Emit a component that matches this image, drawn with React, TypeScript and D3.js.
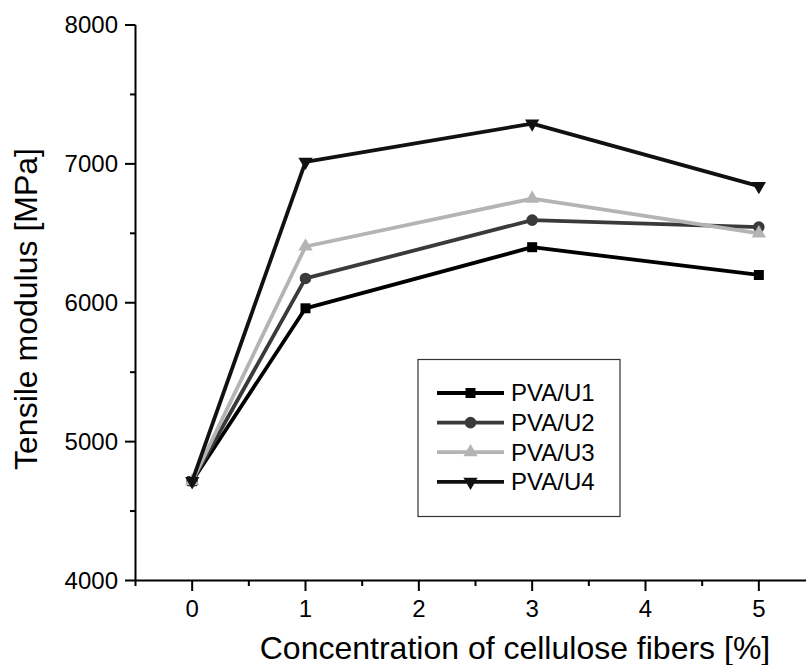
import React from "react";
import * as d3 from "d3";

const concentrations = [0, 1, 3, 5];
const seriesNames = ["PVA/U1", "PVA/U2", "PVA/U3", "PVA/U4"];
const u1 = [4715, 5960, 6400, 6200];
const u2 = [4715, 6175, 6595, 6545];
const u3 = [4715, 6405, 6750, 6500];
const u4 = [4715, 7015, 7290, 6840];
const xTicks = [0, 1, 2, 3, 4, 5];
const xMinor = [-0.5, 0.5, 1.5, 2.5, 3.5, 4.5, 5.5];
const yTicks = [4000, 5000, 6000, 7000, 8000];
const yMinor = [4500, 5500, 6500, 7500];

const W = 806;
const H = 665;
const FONT = "'Liberation Sans', Arial, sans-serif";

const styles = [
  { color: "#000000", symbol: d3.symbolSquare, size: 100, rotate: 0 },
  { color: "#3a3a3a", symbol: d3.symbolCircle, size: 105, rotate: 0 },
  { color: "#b4b4b4", symbol: d3.symbolTriangle, size: 88, rotate: 0 },
  { color: "#111111", symbol: d3.symbolTriangle, size: 88, rotate: 180 },
];

export default function App() {
  const x = d3.scaleLinear().domain([-0.5, 5.5]).range([135.5, 815.5]);
  const y = d3.scaleLinear().domain([4000, 8000]).range([580.5, 25]);
  const all = [u1, u2, u3, u4];
  const line = d3
    .line<number>()
    .x((_, i) => x(concentrations[i]))
    .y((d) => y(d));

  const legendX0 = 437;
  const legendX1 = 504;
  const legendY0 = 393;
  const legendStep = 29.6;

  return (
    <svg
      width={W}
      height={H}
      style={{ position: "absolute", left: 0, top: 0, background: "#fff" }}
      fontFamily={FONT}
    >
      <rect x={0} y={0} width={W} height={H} fill="#fff" />
      {/* axes */}
      <line x1={135.5} x2={W} y1={580.5} y2={580.5} stroke="#000" strokeWidth={2} />
      <line x1={135.5} x2={135.5} y1={y(8000)} y2={580.5} stroke="#000" strokeWidth={2} />
      {xTicks.map((t) => (
        <g key={"xt" + t}>
          <line x1={x(t)} x2={x(t)} y1={580.5} y2={591} stroke="#000" strokeWidth={2} />
          <text x={x(t)} y={617} textAnchor="middle" fontSize={24} fill="#000">
            {t}
          </text>
        </g>
      ))}
      {xMinor.map((t) => (
        <line key={"xm" + t} x1={x(t)} x2={x(t)} y1={580.5} y2={586} stroke="#000" strokeWidth={2} />
      ))}
      {yTicks.map((t) => (
        <g key={"yt" + t}>
          <line x1={125} x2={135.5} y1={y(t)} y2={y(t)} stroke="#000" strokeWidth={2} />
          <text x={118} y={y(t)} dy="0.35em" textAnchor="end" fontSize={24} fill="#000">
            {t}
          </text>
        </g>
      ))}
      {yMinor.map((t) => (
        <line key={"ym" + t} x1={130} x2={135.5} y1={y(t)} y2={y(t)} stroke="#000" strokeWidth={2} />
      ))}
      {/* axis titles */}
      <text x={515} y={659} textAnchor="middle" fontSize={32} fill="#000">
        Concentration of cellulose fibers [%]
      </text>
      <text
        transform={`translate(37,309) rotate(-90)`}
        textAnchor="middle"
        fontSize={32}
        fill="#000"
      >
        Tensile modulus [MPa]
      </text>
      {/* series */}
      {all.map((vals, si) => (
        <g key={"s" + si}>
          <path d={line(vals) || ""} fill="none" stroke={styles[si].color} strokeWidth={3.8} strokeLinejoin="round" />
          {vals.map((v, i) => (
            <path
              key={i}
              d={d3.symbol().type(styles[si].symbol).size(styles[si].size)() || ""}
              transform={`translate(${x(concentrations[i])},${y(v)}) rotate(${styles[si].rotate})`}
              fill={styles[si].color}
            />
          ))}
        </g>
      ))}
      {/* legend */}
      <rect x={418} y={359.5} width={202} height={157} fill="#fff" stroke="#333" strokeWidth={1.2} />
      {seriesNames.map((name, i) => {
        const ly = legendY0 + i * legendStep;
        return (
          <g key={"l" + i}>
            <line x1={legendX0} x2={legendX1} y1={ly} y2={ly} stroke={styles[i].color} strokeWidth={3.8} />
            <path
              d={d3.symbol().type(styles[i].symbol).size(styles[i].size)() || ""}
              transform={`translate(${(legendX0 + legendX1) / 2},${ly}) rotate(${styles[i].rotate})`}
              fill={styles[i].color}
            />
            <text x={511} y={ly} dy="0.35em" fontSize={24} fill="#000">
              {name}
            </text>
          </g>
        );
      })}
    </svg>
  );
}
